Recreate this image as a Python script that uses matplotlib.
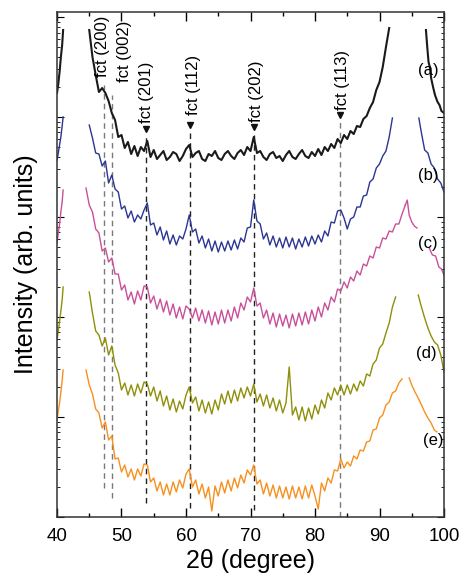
import matplotlib
matplotlib.use('Agg')
import matplotlib.pyplot as plt
import numpy as np

plt.rcParams['font.family'] = ['Liberation Sans', 'DejaVu Sans']

# fct reflections (2theta, degree)
peak_pos = [47.3, 48.6, 53.8, 60.6, 70.6, 83.9]
peak_names = ['fct (200)', 'fct (002)', 'fct (201)', 'fct (112)', 'fct (202)', 'fct (113)']

sample_names = ['(a)', '(b)', '(c)', '(d)', '(e)']
colors = ['#1a1a1a', '#2b3593', '#c8509a', '#8f8f0a', '#f7901e']

# all intensities given as log10(counts)
# left flank (substrate tail), same 2theta for all samples
left_2t = [40.0, 40.2, 40.4, 40.6, 40.8, 40.95]
left_a = [4.24, 4.33, 4.45, 4.60, 4.72, 4.87]
left_b = [3.57, 3.64, 3.72, 3.80, 3.91, 4.00]
left_c = [2.74, 2.84, 2.93, 3.05, 3.15, 3.27]
left_d = [1.77, 1.86, 1.96, 2.06, 2.17, 2.30]
left_e = [0.97, 1.06, 1.14, 1.25, 1.36, 1.47]

# main scan, one point every 0.5 degree from the given start
start_a, start_b, start_c, start_d, start_e = 45.0, 45.0, 44.5, 45.0, 44.5
main_a = [4.87, 4.60, 4.42, 4.25, 4.29, 4.24, 4.16, 4.04, 3.97, 3.80,
          3.82, 3.69, 3.75, 3.63, 3.71, 3.61, 3.70, 3.66, 3.76, 3.60,
          3.67, 3.58, 3.62, 3.66, 3.57, 3.60, 3.65, 3.63, 3.56, 3.61,
          3.68, 3.72, 3.60, 3.64, 3.66, 3.58, 3.56, 3.63, 3.61, 3.66,
          3.59, 3.57, 3.63, 3.66, 3.61, 3.58, 3.64, 3.67, 3.62, 3.70,
          3.66, 3.80, 3.64, 3.66, 3.60, 3.57, 3.63, 3.65, 3.59, 3.61,
          3.56, 3.62, 3.66, 3.60, 3.58, 3.63, 3.67, 3.61, 3.59, 3.65,
          3.61, 3.68, 3.62, 3.70, 3.66, 3.73, 3.69, 3.78, 3.74, 3.82,
          3.78, 3.86, 3.83, 3.91, 3.90, 3.98, 4.01, 4.09, 4.15, 4.27,
          4.35, 4.50, 4.70, 4.89]
main_b = [3.92, 3.79, 3.64, 3.63, 3.51, 3.56, 3.34, 3.42, 3.28, 3.25,
          3.08, 3.11, 2.99, 3.06, 2.95, 3.02, 2.98, 3.07, 3.14, 2.92,
          2.94, 2.82, 2.90, 2.77, 2.86, 2.73, 2.82, 2.72, 2.81, 2.78,
          2.88, 3.02, 2.85, 2.88, 2.74, 2.81, 2.69, 2.78, 2.66, 2.76,
          2.65, 2.75, 2.66, 2.76, 2.67, 2.77, 2.68, 2.79, 2.75, 2.89,
          2.90, 3.17, 2.96, 2.93, 2.78, 2.84, 2.72, 2.81, 2.70, 2.79,
          2.69, 2.80, 2.70, 2.79, 2.68, 2.78, 2.70, 2.80, 2.71, 2.81,
          2.73, 2.82, 2.75, 2.86, 2.81, 2.95, 2.94, 3.06, 3.07, 2.99,
          2.88, 2.98, 3.00, 3.10, 3.10, 3.21, 3.22, 3.35, 3.38, 3.49,
          3.53, 3.61, 3.66, 3.80, 3.99]
main_c = [3.29, 3.12, 3.05, 2.88, 2.84, 2.66, 2.69, 2.55, 2.59, 2.43,
          2.43, 2.27, 2.32, 2.17, 2.25, 2.13, 2.26, 2.17, 2.31, 2.30,
          2.14, 2.21, 2.08, 2.18, 2.05, 2.16, 2.02, 2.13, 1.99, 2.10,
          1.98, 2.11, 2.08, 1.99, 2.09, 1.96, 2.07, 1.94, 2.06, 1.92,
          2.05, 1.93, 2.07, 1.94, 2.07, 1.96, 2.10, 1.99, 2.14, 2.07,
          2.20, 2.15, 2.29, 2.11, 2.14, 1.99, 2.07, 1.93, 2.04, 1.90,
          2.03, 1.91, 2.02, 1.89, 2.03, 1.91, 2.04, 1.92, 2.05, 1.93,
          2.07, 1.96, 2.10, 2.00, 2.14, 2.07, 2.20, 2.15, 2.28, 2.26,
          2.35, 2.29, 2.40, 2.36, 2.46, 2.42, 2.53, 2.51, 2.61, 2.59,
          2.70, 2.69, 2.79, 2.78, 2.86, 2.85, 2.93, 2.93, 3.03, 3.12]
main_d = [2.25, 2.04, 1.86, 1.82, 1.71, 1.79, 1.62, 1.71, 1.52, 1.44,
          1.27, 1.34, 1.22, 1.32, 1.21, 1.33, 1.24, 1.35, 1.33, 1.21,
          1.30, 1.16, 1.26, 1.11, 1.21, 1.07, 1.18, 1.05, 1.16, 1.08,
          1.22, 1.30, 1.14, 1.20, 1.06, 1.17, 1.04, 1.15, 1.03, 1.17,
          1.07, 1.23, 1.13, 1.26, 1.14, 1.27, 1.16, 1.29, 1.19, 1.30,
          1.21, 1.33, 1.15, 1.23, 1.11, 1.22, 1.09, 1.19, 1.06, 1.17,
          1.04, 1.14, 1.50, 1.02, 1.10, 0.97, 1.10, 0.96, 1.09, 0.98,
          1.12, 1.03, 1.17, 1.09, 1.24, 1.17, 1.29, 1.22, 1.32, 1.22,
          1.32, 1.23, 1.33, 1.26, 1.36, 1.31, 1.43, 1.41, 1.53, 1.57,
          1.69, 1.73, 1.84, 1.94, 2.10, 2.20]
main_e = [1.47, 1.32, 1.23, 1.08, 1.04, 0.89, 0.95, 0.77, 0.81, 0.58,
          0.59, 0.45, 0.52, 0.40, 0.48, 0.37, 0.48, 0.41, 0.53, 0.52,
          0.35, 0.39, 0.26, 0.35, 0.22, 0.33, 0.22, 0.35, 0.25, 0.37,
          0.29, 0.43, 0.48, 0.30, 0.37, 0.23, 0.33, 0.19, 0.30, 0.06,
          0.31, 0.21, 0.35, 0.24, 0.37, 0.26, 0.39, 0.29, 0.42, 0.34,
          0.47, 0.42, 0.52, 0.33, 0.37, 0.23, 0.34, 0.21, 0.32, 0.19,
          0.31, 0.19, 0.30, 0.18, 0.31, 0.19, 0.30, 0.18, 0.31, 0.19,
          0.32, 0.21, 0.08, 0.34, 0.26, 0.39, 0.34, 0.47, 0.46, 0.58,
          0.49, 0.55, 0.51, 0.61, 0.58, 0.67, 0.66, 0.75, 0.76, 0.87,
          0.88, 0.99, 1.02, 1.12, 1.15, 1.24, 1.26, 1.34, 1.38]

# pink sample: sharp reflection near 94 deg
peak_c_2t = [94.0, 94.3, 94.6, 95.0, 95.4, 95.8]
peak_c = [3.12, 3.17, 3.02, 2.95, 2.91, 2.89]

# right flank (above the substrate peak)
right_a_2t = [97.2, 97.4, 97.6, 97.8, 98.0, 98.3, 98.6, 99.0, 99.3, 99.6, 100.0]
right_a = [4.87, 4.70, 4.55, 4.50, 4.39, 4.30, 4.22, 4.15, 4.12, 4.06, 4.04]
right_b_2t = [96.1, 96.5, 97.0, 97.5, 98.0, 98.5, 99.0, 99.5, 100.0]
right_b = [3.99, 3.84, 3.67, 3.64, 3.53, 3.49, 3.38, 3.34, 3.25]
right_c_2t = [97.7, 98.2, 98.7, 99.2, 99.6, 100.0]
right_c = [2.69, 2.62, 2.61, 2.50, 2.48, 2.42]
right_d_2t = [96.0, 96.5, 97.0, 97.5, 98.0, 98.5, 99.0, 99.5, 100.0]
right_d = [2.22, 2.10, 1.99, 1.89, 1.81, 1.75, 1.72, 1.62, 1.45]
right_e_2t = [94.6, 95.0, 95.5, 96.0, 96.5, 97.0, 97.5, 98.0, 98.5, 98.9]
right_e = [1.39, 1.32, 1.25, 1.19, 1.12, 1.05, 0.99, 0.94, 0.87, 0.85]


def scan_axis(start, vals):
    return start + 0.5 * np.arange(len(vals))


fig = plt.figure(figsize=(4.63, 5.75), dpi=100)
ax = fig.add_axes([0.1231, 0.1009, 0.8359, 0.8782])
ax.set_yscale('log')

# dashed guide lines for the fct reflections
dash_top = [4.32, 4.22, 3.82, 3.87, 3.85, 3.97]
dash_bot = [0.29, 0.19, 0.14, 0.09, 0.07, 0.0]
dash_col = ['#7a7a7a', '#7a7a7a', '#222222', '#222222', '#222222', '#7a7a7a']
for pos, top, bot, col in zip(peak_pos, dash_top, dash_bot, dash_col):
    ax.plot([pos, pos], [10**bot, 10**top], ls=(0, (4, 3)), color=col,
            lw=1.0, zorder=1)

segments = [
    [(left_2t, left_a), (scan_axis(start_a, main_a), main_a), (right_a_2t, right_a)],
    [(left_2t, left_b), (scan_axis(start_b, main_b), main_b), (right_b_2t, right_b)],
    [(left_2t, left_c), (scan_axis(start_c, main_c), main_c), (peak_c_2t, peak_c),
     (right_c_2t, right_c)],
    [(left_2t, left_d), (scan_axis(start_d, main_d), main_d), (right_d_2t, right_d)],
    [(left_2t, left_e), (scan_axis(start_e, main_e), main_e), (right_e_2t, right_e)],
]
for segs, col in zip(segments, colors):
    lw = 1.5 if col == '#1a1a1a' else 1.0
    for x, y in segs:
        ax.plot(x, 10**np.array(y), color=col, lw=lw, zorder=2)

# reflection labels and arrows
label_x = [47.1, 50.5, 53.95, 61.1, 71.0, 84.2]
label_y = [4.40, 4.35, 3.94, 4.02, 3.95, 4.07]
for name, lx, ly in zip(peak_names, label_x, label_y):
    ax.text(lx, 10**ly, name, rotation=90, ha='center', va='bottom',
            fontsize=12, zorder=5)
arrow_y = [3.88, 3.92, 3.90, 4.02]
for pos, ay in zip(peak_pos[2:], arrow_y):
    ax.plot(pos, 10**ay, marker='v', color='#111111', ms=5, zorder=5)

name_x = [97.5, 97.5, 97.5, 97.3, 98.3]
name_y = [4.47, 3.42, 2.74, 1.63, 0.76]
for name, nx, ny in zip(sample_names, name_x, name_y):
    ax.text(nx, 10**ny, name, ha='center', va='center', fontsize=12, zorder=5)

ax.set_xlim(40, 100)
ax.set_ylim(1, 10**5.05)
ax.set_xticks(np.arange(40, 101, 10))
ax.set_xticks(np.arange(45, 100, 10), minor=True)
ax.tick_params(axis='x', which='major', direction='in', length=6.5, width=1,
               top=True, labelsize=13.5, pad=8)
ax.tick_params(axis='x', which='minor', direction='in', length=3, width=1, top=True)
ax.tick_params(axis='y', which='both', direction='in', right=True, labelleft=False)
ax.tick_params(axis='y', which='major', length=5, width=0.8)
ax.tick_params(axis='y', which='minor', length=2.5, width=0.6)
ax.yaxis.set_minor_formatter(plt.NullFormatter())
for sp in ax.spines.values():
    sp.set_linewidth(1.1)
    sp.set_color('#333333')

ax.set_xlabel('2θ (degree)', fontsize=18, labelpad=3)
ax.set_ylabel('Intensity (arb. units)', fontsize=18, labelpad=14)

plt.savefig('out.png', dpi=100)
